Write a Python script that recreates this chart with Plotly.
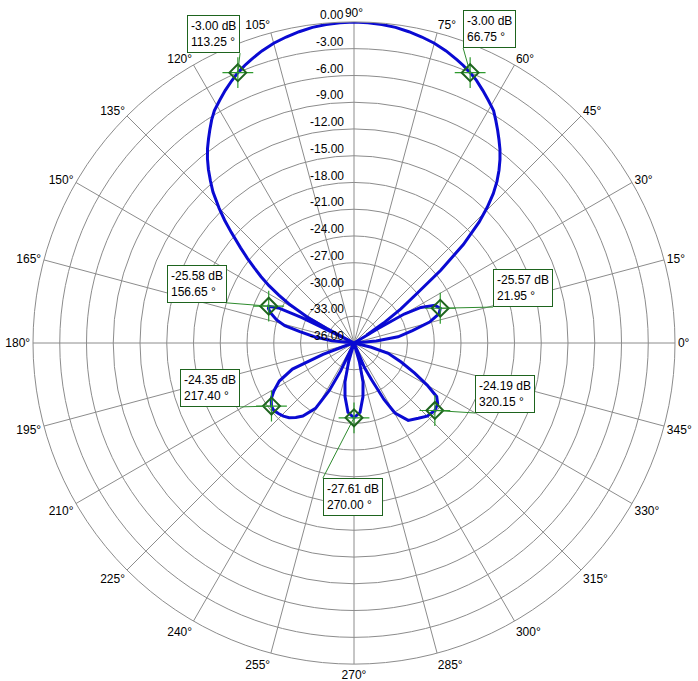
import math
import plotly.graph_objects as go

# pattern (angle in degrees, level in dB)
angles = [0, 2, 5, 8, 12, 15.5, 19, 21.95, 25, 28, 30, 31, 31.5,
          31.8,
          32, 34, 36, 38, 40, 42, 44, 45.5, 47, 48.5, 50, 51.5, 53, 54.5, 56, 57.5, 59, 61,
          63, 65, 66.75, 68.5, 70, 72.5, 75, 77.5, 80, 82.5, 85, 87.5,
          90, 92.5, 95, 97.5, 100, 102.5, 105, 107.5, 110, 111.5, 113.25, 115, 117, 119,
          121, 122.5, 124, 125.5, 127, 128.5, 130, 131.5, 133, 135, 136.5, 138,
          140, 141.5, 143, 144.5, 146, 147.5, 149, 151, 152, 153,
          154, 155, 156.65, 158, 160, 163.4, 166, 168.2, 171, 174, 177,
          190, 198, 200, 203, 207, 211, 214, 217.4, 220, 223, 226, 229, 232, 235,
          239.5, 242.5, 244.5, 246,
          252, 254, 257, 260.5, 265, 270, 275, 279.5, 283, 286, 288,
          291, 293, 295.6, 298, 300.3, 305, 310.5, 315, 320.15, 324, 327, 330, 333.6, 338,
          343.3, 346, 349, 360]
levels = [-36, -36, -33.5, -31, -29.3, -27.2, -25.9, -25.57, -26.0, -27.5, -29.5, -33, -36,
          None,
          -34.3, -32.0, -29.5, -27.3, -23.3, -19.5, -16.5, -14.7, -13.1, -11.8, -10.7, -9.7,
          -8.8, -8.0, -7.2, -6.4, -5.6, -4.9,
          -4.2, -3.5, -3.0, -2.55, -2.2, -1.65, -1.2, -0.85, -0.55, -0.3, -0.15, -0.04,
          0.0, -0.04, -0.15, -0.3, -0.55, -0.85, -1.2, -1.65, -2.2, -2.55, -3.0, -3.55,
          -4.2, -4.9, -5.6, -6.3, -7.1, -7.9, -8.7, -9.6, -10.6, -11.7, -12.8, -14.6,
          -16.0, -17.5, -19.4, -20.7, -22.0, -23.2, -24.5, -26.0, -27.5, -30.0, -32.5, -36,
          -29.5, -26.8, -25.58, -25.65, -26.0, -26.95, -28.0, -29.8, -31.5, -33.5, -36,
          -36, -35, -32.3, -28.5, -26.6, -25.5, -24.8, -24.35, -24.25, -24.4, -24.6, -24.9,
          -25.4, -26.0, -27.5, -30.0, -32.5, -36,
          -36, -33.8, -31.5, -29.9, -28.2, -27.61, -28.2, -29.9, -31.5, -33.8, -36,
          -36, -33, -31.4, -28.8, -26.9, -25.4, -24.9, -24.4, -24.19, -24.4, -24.94, -26.5,
          -28.4, -30.3, -32.0, -34, -36, -36]

# marked points
mark_ang = [113.25, 66.75, 156.65, 217.40, 21.95, 320.15, 270.00]
mark_db = [-3.00, -3.00, -25.58, -24.35, -25.57, -24.19, -27.61]
# label box corner where the leader line attaches (hidden axis units, 1 = outer ring)
box_u = [-0.355, 0.340, -0.396, -0.355, 0.433, 0.377, -0.097]
box_v = [0.903, 0.919, 0.125, -0.199, 0.112, -0.218, -0.421]
box_xanchor = ['right', 'left', 'right', 'right', 'left', 'left', 'left']
box_yanchor = ['bottom', 'bottom', 'bottom', 'bottom', 'bottom', 'bottom', 'top']

r_ticks = [0, -3, -6, -9, -12, -15, -18, -21, -24, -27, -30, -33, -36]
r_tick_text = ['%.2f' % v for v in r_ticks]

R_MIN, R_MAX = -36, 0
r_plot = [None if v is None else max(v, R_MIN) for v in levels]


def norm(db):
    return (db - R_MIN) / (R_MAX - R_MIN)


fig = go.Figure()

fig.add_trace(go.Scatterpolar(r=r_plot, theta=angles, mode='lines',
                              line=dict(color='#0a0ad2', width=3),
                              connectgaps=False, showlegend=False, hoverinfo='skip'))

fig.add_trace(go.Scatterpolar(r=mark_db, theta=mark_ang, mode='markers',
                              marker=dict(symbol='cross-thin', size=22,
                                          line=dict(color='#2e9a2e', width=1.2)),
                              showlegend=False))
fig.add_trace(go.Scatterpolar(r=mark_db, theta=mark_ang, mode='markers',
                              marker=dict(symbol='diamond-open', size=13,
                                          color='#1e641e',
                                          line=dict(color='#1e641e', width=2)),
                              showlegend=False))

# hidden cartesian axes (same square as the polar) for labels and callouts
fig.add_trace(go.Scatter(x=[], y=[], showlegend=False, hoverinfo='skip'))

# radial tick labels just left of the 90 deg spoke, sitting on each ring
for v, t in zip(r_ticks, r_tick_text):
    fig.add_annotation(x=0, y=norm(v), xref='x', yref='y', text=t, showarrow=False,
                       xanchor='right', yanchor='bottom', xshift=-9, yshift=-1,
                       borderpad=0, font=dict(size=12, color='black'))

for a, d, u, v, xa, ya in zip(mark_ang, mark_db, box_u, box_v, box_xanchor, box_yanchor):
    rr = norm(d)
    fig.add_annotation(x=rr * math.cos(math.radians(a)), y=rr * math.sin(math.radians(a)),
                       xref='x', yref='y', ax=u, ay=v, axref='x', ayref='y',
                       xanchor=xa, yanchor=ya,
                       text='%.2f dB<br>%.2f °' % (d, a), align='left',
                       showarrow=True, arrowhead=0, arrowwidth=1, arrowcolor='#2e8b2e',
                       bgcolor='white', bordercolor='#1e641e', borderwidth=1, borderpad=3,
                       font=dict(size=12, color='black'))

fig.update_layout(
    width=698, height=681,
    margin=dict(l=33, r=23, t=22, b=17),
    paper_bgcolor='white', plot_bgcolor='rgba(0,0,0,0)',
    font=dict(family='Liberation Sans, Arial, sans-serif', size=12, color='black'),
    xaxis=dict(range=[-1, 1], visible=False, domain=[0, 1]),
    yaxis=dict(range=[-1, 1], visible=False, domain=[0, 1]),
    polar=dict(
        domain=dict(x=[0, 1], y=[0, 1]),
        bgcolor='white',
        radialaxis=dict(range=[R_MIN, R_MAX], dtick=3, showticklabels=False, ticks='',
                        showline=False, gridcolor='#8c8c8c', gridwidth=1, angle=90),
        angularaxis=dict(rotation=0, direction='counterclockwise', dtick=15,
                         ticksuffix='°', ticks='', showline=True, linecolor='#8c8c8c',
                         linewidth=1, gridcolor='#8c8c8c', gridwidth=1,
                         tickfont=dict(size=12, color='black')),
    ),
)

# drop the default page margin so the figure fills the window
fig.write_html("out.html", config={'displayModeBar': False},
               post_script="document.body.style.margin='0';")
